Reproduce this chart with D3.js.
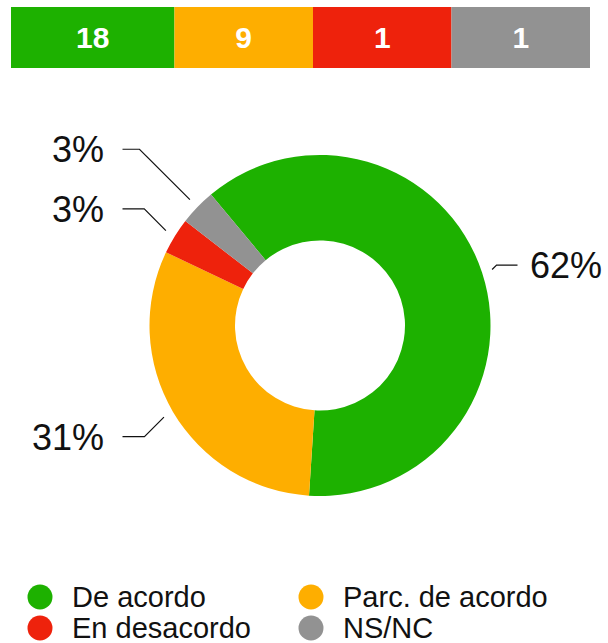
<!DOCTYPE html>
<html>
<head>
<meta charset="utf-8">
<script src="https://cdn.jsdelivr.net/npm/d3@7"></script>
<style>
  html, body { margin: 0; padding: 0; background: #fff; }
  svg { display: block; font-family: "Liberation Sans", Arial, Helvetica, sans-serif; }
</style>
</head>
<body>
<svg width="608" height="643"></svg>
<script>
// data
const categories = ["De acordo", "Parc. de acordo", "En desacordo", "NS/NC"];
const counts = [18, 9, 1, 1];
const colors = ["#1db100", "#feae00", "#ee220c", "#929292"];

const svg = d3.select("svg"),
  width = +svg.attr("width"),
  height = +svg.attr("height");

// top stacked bar (flex-like widths from label text)
const barG = svg.append("g");
const barTop = 7, barH = 61, barLeft = 11, barRight = 590, pad = 76;

const tmp = barG.append("text")
  .style("font-size", "30px").style("font-weight", "bold");
const basis = counts.map(v => {
  tmp.text(v);
  return tmp.node().getComputedTextLength() + pad;
});
tmp.remove();

let acc = 0;
const segs = counts.map((v, i) => {
  const s = { v, i, x0: acc, x1: acc + basis[i] };
  acc += basis[i];
  return s;
});
const xBar = d3.scaleLinear().domain([0, acc]).range([barLeft, barRight]);

barG.selectAll("rect")
  .data(segs)
  .enter().append("rect")
    .attr("x", d => xBar(d.x0))
    .attr("y", barTop)
    .attr("width", d => xBar(d.x1) - xBar(d.x0))
    .attr("height", barH)
    .attr("fill", d => colors[d.i]);

barG.selectAll("text")
  .data(segs)
  .enter().append("text")
    .attr("x", d => (xBar(d.x0) + xBar(d.x1)) / 2)
    .attr("y", barTop + barH / 2)
    .attr("dy", "0.36em")
    .attr("text-anchor", "middle")
    .attr("fill", "#fff")
    .style("font-size", "30px")
    .style("font-weight", "bold")
    .text(d => d.v);

// donut
const cx = 320, cy = 325.5, rOut = 170.5, rIn = 85;
const start = -39.75 * Math.PI / 180;

const pie = d3.pie()
  .sort(null)
  .startAngle(start)
  .endAngle(start + 2 * Math.PI)
  .value(d => d);

const arcs = pie(counts);
const arc = d3.arc().innerRadius(rIn).outerRadius(rOut);

const pieG = svg.append("g").attr("transform", `translate(${cx},${cy})`);
pieG.selectAll("path")
  .data(arcs)
  .enter().append("path")
    .attr("d", arc)
    .attr("fill", (d, i) => colors[i]);

// labels with crooked connectors
const total = d3.sum(counts);
const fmt = d3.format(".0%");
const labels = arcs.map((d, i) => {
  const mid = (d.startAngle + d.endAngle) / 2;
  const s = Math.sin(mid), c = Math.cos(mid);
  const px = 181 * s, py = -181 * c;
  const ly = py - 150 * c * c * c;
  const side = s < 0 ? -1 : 1;
  return { i, px, py, ly, side, text: fmt(d.value / total) };
});

// keep labels on the same side apart
[-1, 1].forEach(side => {
  const l = labels.filter(d => d.side === side).sort((a, b) => a.ly - b.ly);
  for (let k = 1; k < l.length; k++) {
    if (l[k].ly - l[k - 1].ly < 44) l[k].ly = l[k - 1].ly + 44;
  }
});

const lineEnd = 197.5;
pieG.selectAll("polyline")
  .data(labels)
  .enter().append("polyline")
    .attr("fill", "none")
    .attr("stroke", "#111")
    .attr("stroke-width", 1.2)
    .attr("points", d => {
      const ex = d.px + d.side * Math.abs(d.ly - d.py);
      return [[d.px, d.py], [ex, d.ly], [d.side * lineEnd, d.ly]].join(" ");
    });

pieG.selectAll("text.pct")
  .data(labels)
  .enter().append("text")
    .attr("class", "pct")
    .attr("x", d => d.side < 0 ? -216 : 210)
    .attr("y", d => d.ly)
    .attr("dy", "0.36em")
    .attr("text-anchor", d => d.side < 0 ? "end" : "start")
    .attr("fill", "#111")
    .style("font-size", "36px")
    .text(d => d.text);

// legend
const legend = svg.append("g");
const legX = [40, 311], legY = [597, 628];
const item = legend.selectAll("g")
  .data(categories)
  .enter().append("g")
    .attr("transform", (d, i) => `translate(${legX[i % 2]},${legY[Math.floor(i / 2)]})`);

item.append("circle")
  .attr("r", 12.5)
  .attr("fill", (d, i) => colors[i]);

item.append("text")
  .attr("x", 32)
  .attr("dy", "0.36em")
  .attr("fill", "#111")
  .style("font-size", "29px")
  .text(d => d);
</script>
</body>
</html>
